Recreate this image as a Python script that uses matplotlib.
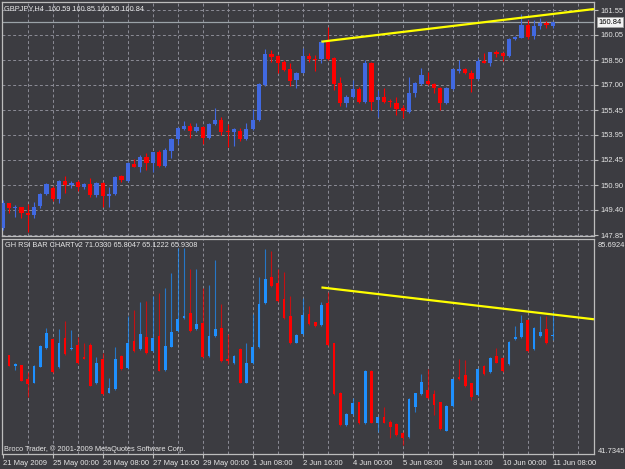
import matplotlib.pyplot as plt
import matplotlib.transforms as mtransforms
import numpy as np

plt.rcParams['font.family'] = ['Liberation Sans', 'DejaVu Sans']

BG = '#3c3c41'
FG = '#e6e6e6'
GRID = '#8c8c96'
FRAME = '#bdbdbd'

# GBPJPY H4 candles (one per bar, oldest first)
price_open = [148.26, 149.78, 149.48, 149.54, 149.17, 149.07, 149.62, 150.33, 150.70, 150.03,
              151.16, 150.88, 151.10, 150.76, 150.94, 150.29, 151.04, 150.25, 150.33, 151.45,
              151.16, 152.18, 152.01, 152.59, 152.26, 152.93, 152.08, 152.99, 153.69, 154.33,
              154.51, 154.21, 154.42, 153.75, 154.60, 154.86, 154.15, 154.11, 154.19, 153.69,
              154.30, 154.86, 157.00, 158.89, 158.77, 158.42, 157.97, 157.30, 157.75, 158.77,
              158.56, 158.56, 159.60, 158.64, 157.12, 155.90, 156.27, 156.75, 155.98, 158.34,
              156.08, 156.27, 156.04, 155.90, 155.59, 155.37, 156.51, 157.06, 157.26, 157.06,
              156.83, 155.90, 156.75, 157.85, 157.95, 157.75, 157.36, 158.48, 158.32, 158.99,
              158.97, 158.77, 159.78, 159.88, 160.66, 160.00, 160.59, 160.80, 160.59]
price_high = [149.98, 149.82, 149.68, 149.57, 149.74, 149.88, 150.43, 151.04, 150.84, 151.20,
              151.45, 151.14, 151.20, 151.00, 151.31, 151.10, 151.10, 150.76, 151.45, 151.51,
              152.30, 152.46, 152.73, 152.83, 152.93, 153.03, 153.14, 153.75, 154.42, 154.82,
              154.66, 154.66, 154.50, 154.66, 155.58, 155.06, 154.62, 154.36, 154.36, 154.66,
              155.51, 157.10, 159.19, 159.13, 158.83, 158.52, 158.34, 157.81, 159.25, 158.97,
              158.83, 159.74, 160.53, 158.72, 157.48, 156.39, 157.30, 156.87, 158.52, 158.42,
              156.69, 156.81, 156.13, 156.27, 155.78, 157.50, 157.20, 158.03, 157.81, 157.12,
              156.87, 156.89, 158.03, 158.52, 158.03, 157.91, 158.64, 158.97, 159.03, 159.13,
              159.03, 159.84, 159.98, 161.33, 160.96, 160.96, 161.06, 160.92, 160.85]
price_low = [148.16, 149.17, 148.97, 148.87, 148.05, 148.87, 149.48, 150.29, 149.94, 149.78,
             150.39, 150.70, 150.55, 150.64, 150.19, 150.15, 149.54, 149.57, 150.29, 151.10,
             151.10, 151.98, 151.71, 151.81, 151.71, 151.98, 152.01, 152.53, 153.40, 154.25,
             153.75, 154.11, 153.40, 153.70, 154.56, 153.95, 153.23, 153.29, 153.60, 153.64,
             154.25, 154.80, 156.94, 158.42, 157.75, 157.85, 156.94, 156.83, 157.73, 158.42,
             157.87, 158.32, 158.52, 156.69, 155.72, 155.67, 156.20, 155.90, 155.92, 155.47,
             155.06, 155.90, 155.67, 155.17, 154.98, 155.29, 156.28, 157.00, 157.00, 156.53,
             155.47, 155.84, 156.69, 157.73, 157.67, 156.59, 157.30, 158.32, 158.16, 158.72,
             158.46, 158.72, 159.74, 159.84, 159.78, 159.78, 160.39, 160.45, 160.50]
price_close = [149.78, 149.48, 149.57, 149.17, 149.07, 149.57, 150.33, 150.94, 150.03, 151.16,
               150.90, 151.04, 150.76, 150.96, 150.29, 151.00, 150.25, 150.33, 151.37, 151.20,
               152.22, 152.01, 152.62, 152.26, 152.89, 152.08, 153.03, 153.69, 154.36, 154.50,
               154.21, 154.42, 153.75, 154.60, 154.86, 154.15, 154.11, 154.30, 153.69, 154.30,
               154.86, 157.06, 158.89, 158.72, 158.34, 157.91, 157.24, 157.75, 158.77, 158.58,
               158.52, 159.64, 158.56, 157.06, 155.90, 156.28, 156.75, 155.98, 158.34, 155.98,
               156.27, 155.98, 155.96, 155.53, 155.43, 156.53, 157.12, 157.61, 157.06, 156.83,
               155.90, 156.81, 157.97, 157.95, 157.71, 157.34, 158.48, 158.36, 158.99, 158.87,
               158.77, 159.78, 159.94, 160.66, 159.94, 160.59, 160.80, 160.66, 160.84]

# GH RSI bar chart (first bar not drawn)
nan = np.nan
rsi_open = [nan, 62.01, 59.76, 59.97, 57.04, 56.36, 59.63, 63.37, 65.21, 59.49,
            65.41, 63.16, 64.05, 61.67, 64.05, 56.22, 61.12, 54.18, 55.00, 61.80,
            59.29, 64.87, 63.16, 65.75, 62.89, 65.89, 58.94, 63.71, 66.98, 69.49,
            70.51, 67.25, 68.47, 61.80, 65.89, 67.45, 61.12, 60.31, 63.16, 56.36,
            60.31, 63.57, 72.56, 77.87, 76.64, 73.37, 69.97, 64.53, 66.30, 70.38,
            68.75, 68.13, 72.69, 64.39, 54.32, 47.71, 49.89, 52.34, 48.06, 58.74,
            48.19, 49.28, 48.40, 47.92, 46.08, 45.20, 51.46, 54.05, 54.86, 53.98,
            52.34, 46.56, 51.59, 57.58, 57.92, 56.22, 53.84, 59.76, 58.60, 61.80,
            61.46, 60.17, 65.21, 65.62, 69.15, 63.16, 65.89, 67.25, 65.8047]
rsi_high = [nan, 62.01, 60.31, 59.97, 58.60, 59.97, 64.05, 67.45, 65.41, 67.25,
            69.02, 67.11, 65.62, 64.39, 64.39, 61.67, 62.35, 57.24, 63.71, 62.01,
            69.97, 71.20, 72.90, 73.10, 74.05, 74.73, 75.62, 78.82, 83.79, 83.79,
            79.50, 79.50, 75.62, 76.30, 81.40, 72.42, 66.30, 62.01, 63.37, 64.53,
            70.38, 78.00, 83.58, 83.31, 79.50, 79.02, 74.05, 66.30, 73.58, 72.01,
            68.82, 72.90, 74.94, 64.53, 54.46, 50.10, 53.16, 52.48, 58.88, 58.88,
            49.42, 51.46, 48.74, 48.06, 46.35, 53.16, 54.32, 58.13, 59.08, 54.86,
            52.48, 51.80, 57.24, 61.12, 60.99, 56.36, 59.29, 59.97, 61.53, 63.37,
            61.67, 64.93, 67.93, 70.17, 69.29, 67.66, 69.97, 69.97, 71.0330]
rsi_low = [nan, 59.76, 58.94, 56.77, 53.50, 56.22, 59.49, 63.16, 58.40, 59.29,
           62.01, 63.03, 60.17, 61.12, 55.68, 56.09, 53.84, 54.18, 54.86, 58.94,
           59.08, 62.69, 63.03, 62.21, 62.69, 58.67, 58.81, 63.57, 66.77, 69.29,
           66.77, 67.11, 61.33, 61.67, 65.75, 60.65, 60.17, 60.17, 56.22, 56.22,
           60.17, 63.44, 72.42, 75.96, 72.90, 69.29, 64.25, 64.39, 66.09, 68.13,
           67.79, 68.00, 63.91, 53.91, 47.58, 47.58, 49.76, 47.92, 47.92, 48.06,
           46.35, 48.06, 45.06, 45.54, 43.63, 45.00, 50.44, 53.84, 53.02, 49.76,
           46.69, 46.49, 51.46, 56.90, 55.54, 52.82, 53.70, 57.92, 58.40, 60.31,
           58.60, 59.97, 65.07, 65.41, 62.69, 63.03, 65.75, 64.25, 65.1222]
rsi_close = [nan, 59.76, 60.17, 56.77, 56.09, 59.76, 63.85, 66.57, 58.60, 64.39,
             62.21, 63.37, 60.31, 61.26, 55.75, 60.31, 54.05, 55.20, 61.12, 59.08,
             64.39, 62.89, 66.30, 62.35, 65.55, 58.81, 63.85, 66.77, 69.29, 69.97,
             66.98, 68.34, 61.53, 65.89, 67.25, 60.85, 60.78, 61.80, 56.36, 60.31,
             63.57, 72.42, 77.46, 76.10, 73.10, 69.49, 64.39, 66.09, 70.17, 68.34,
             67.93, 72.22, 64.05, 54.05, 47.71, 49.96, 52.14, 48.06, 58.74, 48.19,
             49.28, 48.19, 47.37, 45.67, 45.06, 52.96, 54.18, 56.56, 53.16, 51.80,
             46.83, 51.59, 57.11, 57.11, 55.68, 53.50, 59.08, 58.13, 61.33, 60.44,
             58.81, 64.73, 65.62, 68.47, 62.89, 67.45, 66.77, 64.39, 65.9308]

price_ticks = [161.55, 160.05, 158.50, 157.00, 155.45, 153.95, 152.45, 150.90, 149.40, 147.85]
price_range = (147.79, 162.06)
rsi_range = (41.7345, 85.6924)
bid = 160.84

time_ticks = [0, 8, 16, 24, 32, 40, 48, 56, 64, 72, 80, 88]
time_labels = ['21 May 2009', '25 May 00:00', '26 May 08:00', '27 May 16:00', '29 May 00:00',
               '1 Jun 08:00', '2 Jun 16:00', '4 Jun 00:00', '5 Jun 08:00', '8 Jun 16:00',
               '10 Jun 00:00', '11 Jun 08:00']
grid_bars = list(range(4, 93, 4))

# trend lines (bar index, value)
price_trend_x = [51, 94.6]
price_trend_y = [159.64, 161.63]
rsi_trend_x = [51, 94.6]
rsi_trend_y = [75.8, 69.3]

W, H = 625, 469
fig = plt.figure(figsize=(W / 100, H / 100), dpi=100, facecolor=BG)


def px_axes(x0, y0, x1, y1):
    return fig.add_axes([x0 / W, 1 - y1 / H, (x1 - x0) / W, (y1 - y0) / H])


def draw_candles(ax, o, h, l, c, up, down, width, wick_alpha, min_h):
    o, h, l, c = (np.asarray(v, dtype=float) for v in (o, h, l, c))
    x = np.arange(len(o))
    ok = ~np.isnan(o)
    col = np.where(c >= o, up, down)
    ax.vlines(x[ok], l[ok], h[ok], colors=col[ok], lw=0.8, alpha=wick_alpha, zorder=3)
    bottom = np.minimum(o, c)
    height = np.maximum(np.abs(c - o), min_h)
    ax.bar(x[ok], height[ok], width, bottom[ok], color=col[ok], linewidth=0, zorder=4)


ax1 = px_axes(2, 2, 594, 236)
ax2 = px_axes(2, 239, 594, 454.3)

for ax in (ax1, ax2):
    ax.set_facecolor(BG)
    ax.set_xlim(-0.11, 94.61)
    for s in ax.spines.values():
        s.set_color(FRAME)
        s.set_linewidth(0.9)
    for g in grid_bars:
        ax.axvline(g, color=GRID, lw=0.7, ls=(0, (3, 2.5)), zorder=1)

# main price pane
ax1.set_ylim(*price_range)
ax1.yaxis.tick_right()
ax1.set_yticks(price_ticks)
ax1.set_yticklabels(['%.2f' % p for p in price_ticks])
ax1.tick_params(axis='y', length=3, width=0.8, color=FRAME, labelcolor=FG, labelsize=5.4, pad=1.5)
ax1.set_xticks([])
ax1.grid(axis='y', color=GRID, lw=0.7, ls=(0, (3, 2.5)), zorder=1)
ax1.axhline(bid, color='#9ba3a8', lw=0.9, zorder=2)
draw_candles(ax1, price_open, price_high, price_low, price_close,
             '#4169e1', '#ff0000', 0.66, 1.0, 0.06)
ax1.plot(price_trend_x, price_trend_y, color='#ffff00', lw=1.6, zorder=5, solid_capstyle='butt')
ax1.text(0.0034, 0.974, 'GBPJPY,H4  %.2f %.2f %.2f %.2f' % (price_open[-1], price_high[-1],
                                                            price_low[-1], price_close[-1]),
         transform=ax1.transAxes, color=FG, fontsize=5.3, va='center', ha='left')
trans1 = mtransforms.blended_transform_factory(ax1.transAxes, ax1.transData)
ax1.text(1.0075, bid, '%.2f' % bid, transform=trans1, color='black', fontsize=5.4,
         va='center', ha='left', clip_on=False,
         bbox=dict(boxstyle='square,pad=0.15', fc='#f2f2f2', ec='#a0a0a0', lw=0.6))

# RSI bar pane
ax2.set_ylim(*rsi_range)
ax2.set_yticks([])
draw_candles(ax2, rsi_open, rsi_high, rsi_low, rsi_close,
             '#1e90ff', '#ff0000', 0.42, 0.7, 0.2)
ax2.plot(rsi_trend_x, rsi_trend_y, color='#ffff00', lw=1.6, zorder=5, solid_capstyle='butt')
ax2.text(0.005, 0.9675, 'GH RSI BAR CHARTv2 %.4f %.4f %.4f %.4f' % (rsi_high[-1], rsi_open[-1],
                                                                   rsi_low[-1], rsi_close[-1]),
         transform=ax2.transAxes, color=FG, fontsize=5.3, va='center', ha='left')
ax2.text(0.0034, 0.0246, 'Broco Trader, \u00a9 2001-2009 MetaQuotes Software Corp.',
         transform=ax2.transAxes, color=FG, fontsize=5.3, va='center', ha='left')
ax2.text(1.006, 0.972, '%.4f' % rsi_range[1], transform=ax2.transAxes, color=FG,
         fontsize=5.4, va='center', ha='left', clip_on=False)
ax2.text(1.006, 0.012, '%.4f' % rsi_range[0], transform=ax2.transAxes, color=FG,
         fontsize=5.4, va='center', ha='left', clip_on=False)
ax2.set_xticks(time_ticks)
ax2.set_xticklabels(time_labels, ha='left')
ax2.tick_params(axis='x', length=3, width=0.8, color=FRAME, labelcolor=FG, labelsize=5.5, pad=1)

fig.savefig('out.png', dpi=100, facecolor=BG)
